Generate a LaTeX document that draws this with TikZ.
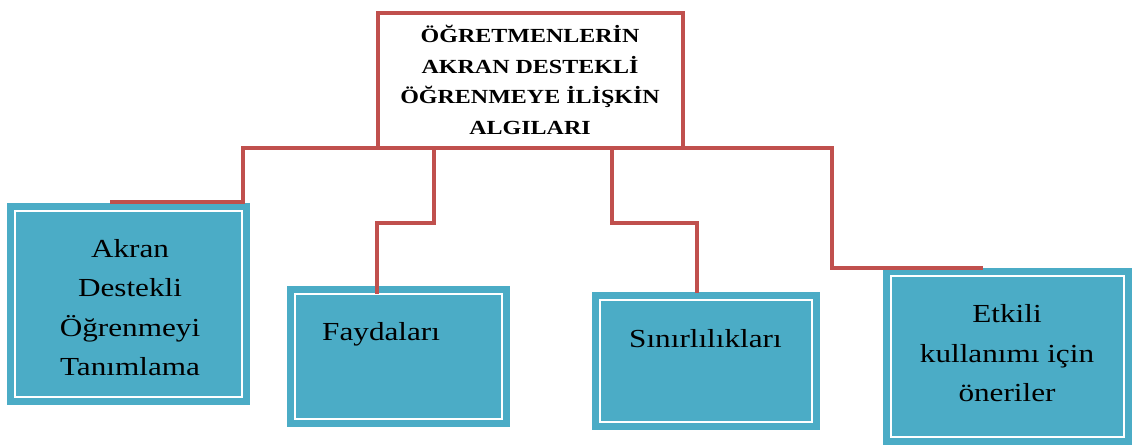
\documentclass[tikz,border=0pt]{standalone}
\usepackage{fontspec}
\setmainfont{Liberation Serif}[FakeStretch=1.2]
\definecolor{linered}{HTML}{C0504D}
\definecolor{boxcyan}{HTML}{4BACC6}
\begin{document}
\begin{tikzpicture}[x=1pt,y=-1pt,
  conn/.style={draw=linered, line width=4pt},
  cbox/.style={fill=boxcyan, draw=none, inner sep=0pt,
    path picture={\draw[white,line width=2pt]
      ([shift={(8pt,8pt)}]path picture bounding box.south west) rectangle
      ([shift={(-8pt,-8pt)}]path picture bounding box.north east);}},
  boxtext/.style={font=\fontsize{26}{39.5}\selectfont, align=center, inner sep=0pt},
  titlebox/.style={draw=linered, line width=4pt, inner sep=0pt, align=center,
    font=\fontsize{20}{30.7}\selectfont\bfseries}]
\useasboundingbox (0,0) rectangle (1132,445);

% title box
\node[titlebox, minimum width=305pt, minimum height=135pt] (tb) at (530,80)
  {ÖĞRETMENLERİN\\AKRAN DESTEKLİ\\ÖĞRENMEYE İLİŞKİN\\ALGILARI};

% boxes
\node[cbox, minimum width=243pt, minimum height=202pt] (b1) at (128.5,304) {};
\node[cbox, minimum width=223pt, minimum height=141pt] (b2) at (398.5,356.5) {};
\node[cbox, minimum width=228pt, minimum height=138pt] (b3) at (706,361) {};
\node[cbox, minimum width=249pt, minimum height=177pt] (b4) at (1007.5,356.5) {};

% texts
\node[boxtext] (t1) at (130,307.5) {Akran\\Destekli\\Öğrenmeyi\\Tanımlama};
\node[boxtext, anchor=base west] (t2) at (322,340) {Faydaları};
\node[boxtext, anchor=base west] (t3) at (629,347) {Sınırlılıkları};
\node[boxtext] (t4) at (1007,353.5) {Etkili\\kullanımı için\\öneriler};

% connector coordinates
\coordinate (j1) at (243,147.5);
\coordinate (j2) at (434,147.5);
\coordinate (j3) at (612,147.5);
\coordinate (j4) at (832,147.5);
\coordinate (e1) at (110,202);
\coordinate (k2) at (377,223);
\coordinate (e2) at (377,294);
\coordinate (k3) at (697,223);
\coordinate (e3) at (697,293);
\coordinate (e4) at (983,268);

\draw[conn] (e1) -| (j1) -- (j4) |- (e4);
\draw[conn] (j2) |- (k2) -- (e2);
\draw[conn] (j3) |- (k3) -- (e3);
\end{tikzpicture}
\end{document}
